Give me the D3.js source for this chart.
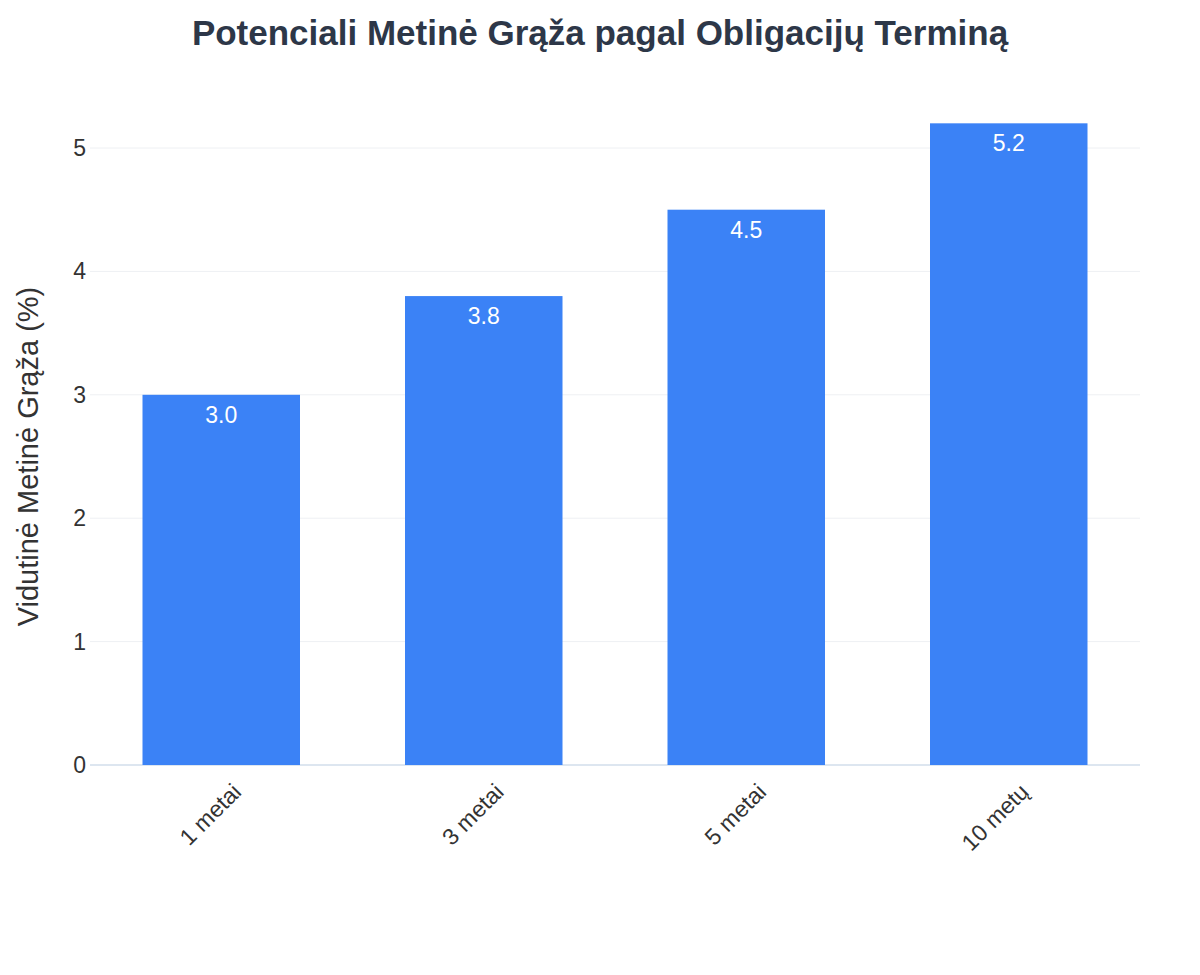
<!DOCTYPE html>
<html><head><meta charset="utf-8">
<script src="https://cdn.jsdelivr.net/npm/d3@7"></script>
<style>body{margin:0;background:#fff;font-family:"Liberation Sans",Arial,sans-serif}</style>
</head><body><svg id="c" width="1200" height="975" font-family="Liberation Sans, Arial, sans-serif"></svg>
<script>
const categories=["1 metai","3 metai","5 metai","10 metų"];
const values=[3.0,3.8,4.5,5.2];
const yTicks=[0,1,2,3,4,5];
const svg=d3.select("#c");
const m={l:90,r:1140,t:100,b:765};
const x=d3.scaleBand().domain(categories).range([m.l,m.r]).paddingInner(0.4).paddingOuter(0.2);
const y=d3.scaleLinear().domain([0,5]).range([m.b,148]);
svg.append("text").attr("x",600).attr("y",45).attr("text-anchor","middle")
 .attr("font-size",35).attr("font-weight","bold").attr("fill","#2d3748")
 .text("Potenciali Metinė Grąža pagal Obligacijų Terminą");
svg.selectAll(".g").data(yTicks).enter().append("line")
 .attr("x1",m.l).attr("x2",m.r).attr("y1",d=>y(d)).attr("y2",d=>y(d))
 .attr("stroke",d=>d===0?"#dde6f0":"#eef0f3").attr("stroke-width",d=>d===0?2:1);
svg.selectAll(".yt").data(yTicks).enter().append("text")
 .attr("x",m.l-4).attr("y",d=>y(d)+8).attr("text-anchor","end")
 .attr("font-size",23).attr("fill","#333").text(d=>d);
svg.append("text").attr("transform","translate(38,"+(y(2.5))+") rotate(-90)")
 .attr("text-anchor","middle").attr("font-size",29).attr("fill","#333")
 .text("Vidutinė Metinė Grąža (%)");
svg.selectAll(".b").data(values).enter().append("rect")
 .attr("x",(d,i)=>x(categories[i])).attr("width",x.bandwidth())
 .attr("y",d=>y(d)).attr("height",d=>y(0)-y(d)).attr("fill","#3b82f6");
svg.selectAll(".l").data(values).enter().append("text")
 .attr("x",(d,i)=>x(categories[i])+x.bandwidth()/2).attr("y",d=>y(d)+28)
 .attr("text-anchor","middle").attr("font-size",23).attr("fill","#fff")
 .text(d=>d.toFixed(1));
svg.selectAll(".xt").data(categories).enter().append("text")
 .attr("transform",d=>"translate("+(x(d)+x.bandwidth()/2+10)+",782) rotate(-45)")
 .attr("text-anchor","end").attr("dy","0.7em").attr("font-size",23).attr("fill","#333").text(d=>d);
</script></body></html>
